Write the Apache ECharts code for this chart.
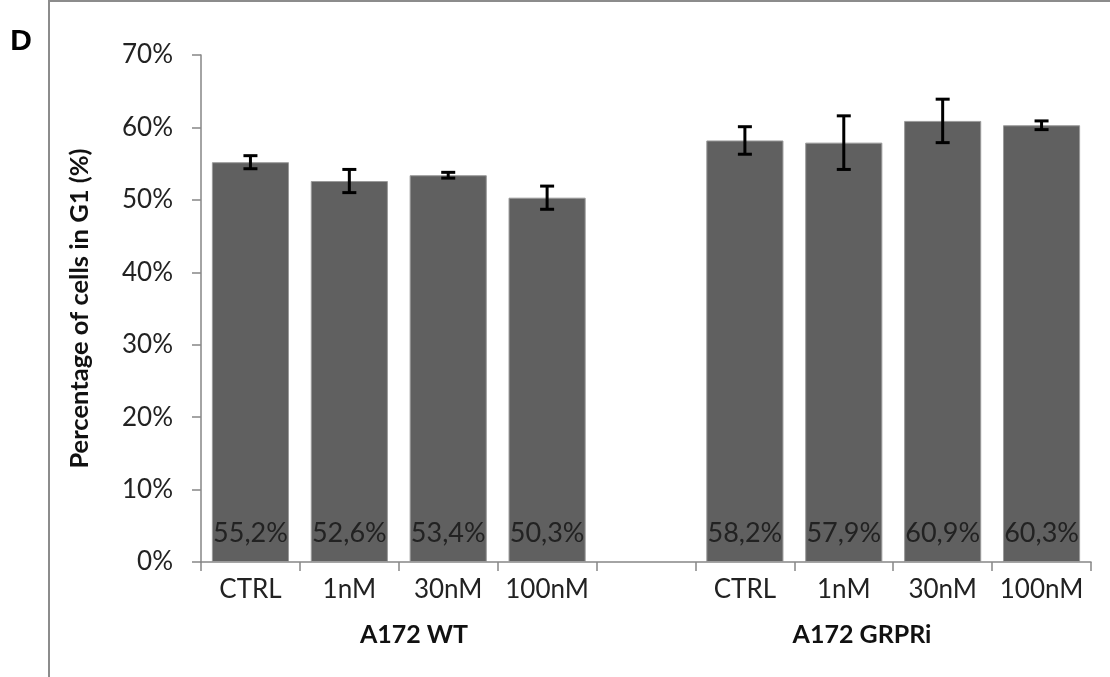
<!DOCTYPE html>
<html>
<head>
<meta charset="utf-8">
<script src="https://cdn.jsdelivr.net/npm/echarts@6/dist/echarts.min.js"></script>
<style>
html,body{margin:0;padding:0;background:#fff;}
#chart{width:1110px;height:677px;}
</style>
</head>
<body>
<div id="chart"></div>
<script>
const categories = ['CTRL', '1nM', '30nM', '100nM', '', 'CTRL', '1nM', '30nM', '100nM'];
const values = [55.2, 52.6, 53.4, 50.3, null, 58.2, 57.9, 60.9, 60.3];
const errors = [0.9, 1.6, 0.4, 1.6, null, 1.9, 3.7, 3.0, 0.6];
const valueLabels = ['55,2%', '52,6%', '53,4%', '50,3%', '', '58,2%', '57,9%', '60,9%', '60,3%'];
const groupLabels = ['A172 WT', 'A172 GRPRi'];

const FONT = 'Lato';
const chart = echarts.init(document.getElementById('chart'));

const errData = values.map((v, i) => v == null ? null : [i, v - errors[i], v + errors[i]]).filter(d => d);

chart.setOption({
  animation: false,
  backgroundColor: '#fff',
  grid: { left: 201, right: 19, top: 55, bottom: 115 },
  xAxis: {
    type: 'category',
    data: categories,
    axisLine: { lineStyle: { color: '#868686', width: 1.5 } },
    axisTick: { show: true, interval: 0, length: 9, lineStyle: { color: '#868686', width: 1.5 } },
    axisLabel: { interval: 0, color: '#222', fontFamily: FONT, fontSize: 26, margin: 15 }
  },
  yAxis: {
    type: 'value',
    min: 0, max: 70, interval: 10,
    splitLine: { show: false },
    axisLine: { show: true, lineStyle: { color: '#868686', width: 1.5 } },
    axisTick: { show: true, length: 9, lineStyle: { color: '#868686', width: 1.5 } },
    axisLabel: { color: '#222', fontFamily: FONT, fontSize: 26, margin: 28, formatter: v => v + '%' },
    name: 'Percentage of cells in G1 (%)',
    nameLocation: 'middle',
    nameGap: 108,
    nameTextStyle: { color: '#111', fontFamily: FONT, fontSize: 25.5, fontWeight: 'bold' }
  },
  series: [
    {
      type: 'bar',
      data: values,
      barCategoryGap: '22%',
      itemStyle: { color: '#606060', borderColor: '#9a9a9a', borderWidth: 1 },
      label: {
        show: true, position: 'insideBottom', distance: 15,
        color: '#222', fontFamily: FONT, fontSize: 27,
        formatter: p => valueLabels[p.dataIndex]
      },
      z: 2
    },
    {
      type: 'custom',
      data: errData,
      z: 5,
      renderItem: function (params, api) {
        const x = api.value(0);
        const lo = api.coord([x, api.value(1)]);
        const hi = api.coord([x, api.value(2)]);
        const hw = 7;
        const st = { stroke: '#000', lineWidth: 3 };
        return {
          type: 'group',
          children: [
            { type: 'line', shape: { x1: lo[0], y1: lo[1], x2: hi[0], y2: hi[1] }, style: st },
            { type: 'line', shape: { x1: lo[0] - hw, y1: lo[1], x2: lo[0] + hw, y2: lo[1] }, style: st },
            { type: 'line', shape: { x1: hi[0] - hw, y1: hi[1], x2: hi[0] + hw, y2: hi[1] }, style: st }
          ]
        };
      }
    }
  ],
  graphic: [
    { type: 'line', shape: { x1: 49, y1: 1, x2: 1110, y2: 1 }, style: { stroke: '#8c8c8c', lineWidth: 2 } },
    { type: 'line', shape: { x1: 49, y1: 0, x2: 49, y2: 677 }, style: { stroke: '#8c8c8c', lineWidth: 2 } },
    { type: 'text', x: 21, y: 42, style: { text: 'D', fontFamily: 'Arial', fontWeight: 'bold', fontSize: 30, fill: '#000', align: 'center', verticalAlign: 'middle' } },
    { type: 'text', x: 414, y: 635, style: { text: groupLabels[0], fontFamily: FONT, fontWeight: 'bold', fontSize: 25, fill: '#111', align: 'center', verticalAlign: 'middle' } },
    { type: 'text', x: 862, y: 635, style: { text: groupLabels[1], fontFamily: FONT, fontWeight: 'bold', fontSize: 25, fill: '#111', align: 'center', verticalAlign: 'middle' } }
  ]
});
</script>
</body>
</html>
